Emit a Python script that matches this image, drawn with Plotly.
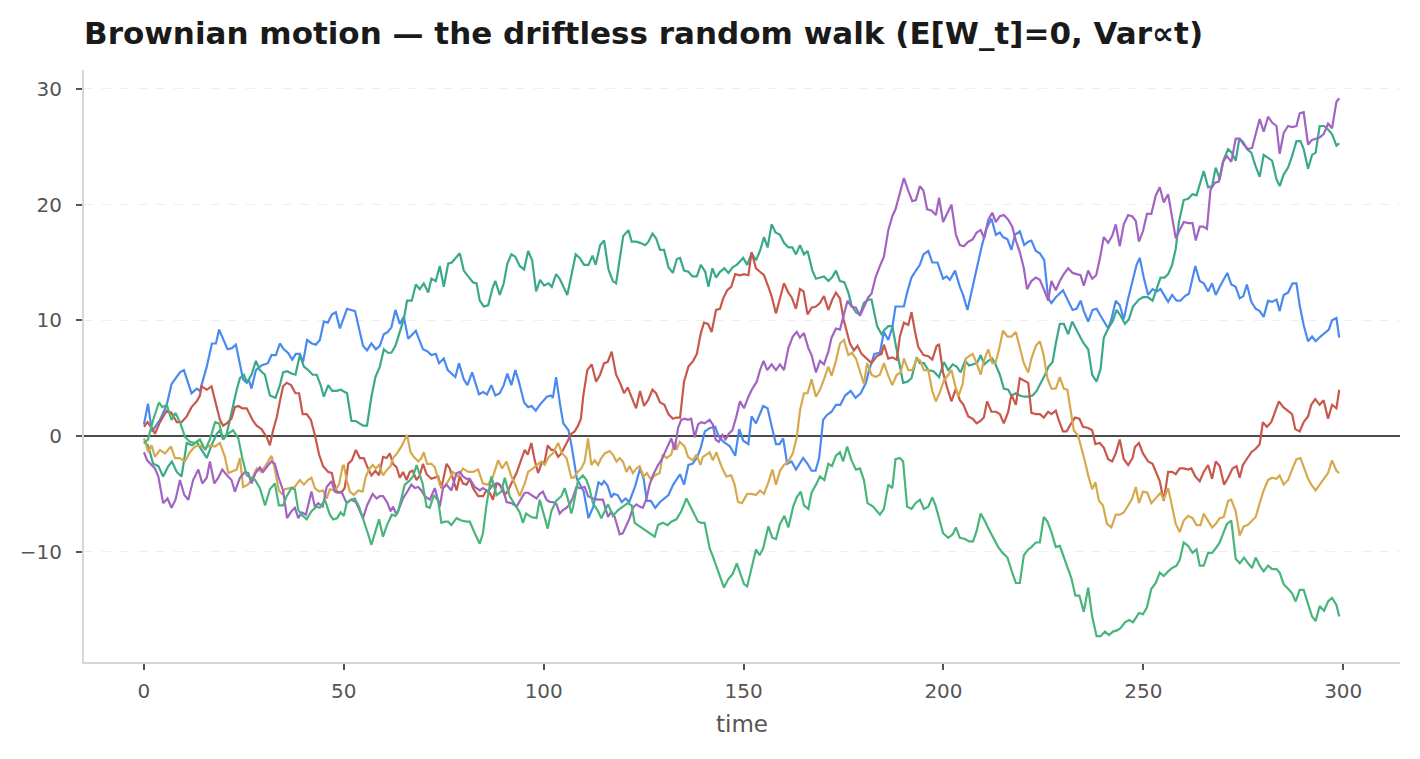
import plotly.graph_objects as go

# ---- data (time, value) ----
blue_t = [0,1,2,4,5.7,6.9,9,10,11.9,13.2,14,15.7,17,18,18.8,20.9,22,23,24.8,25.7,26.2,26.9,28,29.4,31,31.9,33,34,35,36,37.1,38,39,39.8,40.8,42,43,44,45,46,47,48,49,50.8,52.8,54.8,55.8,56.9,58,59,60,61,61.9,62.9,64,65,66.1,68,69.8,71,71.9,73,73.8,75,76,77.9,78.8,80,80.9,82.1,83.8,84.8,85.8,86.9,87.9,89,90,90.9,91.9,92.9,93.8,95.1,96.1,97,98,99,100.8,101.8,102.3,103.1,104.1,104.9,106.2,107,108.3,110,111.2,112.4,113.7,114.5,115.1,116,116.9,117.5,118.5,119.5,120.5,121.4,122.9,124.1,125,125.8,126.8,127.9,129.1,130.3,131.2,132.4,134.1,135.1,136.2,137.2,138.3,139.3,140.3,141.6,142.9,143.7,145,145.8,146.6,147.9,148.9,149.9,151.2,152,153.1,154.9,156,157,158.1,159,159.9,160.9,162,163.1,164.9,166,167,168,168.9,169.9,170.8,172,173.1,174.2,175.4,176.8,178,179.3,180.6,181.4,182.7,184.1,185.1,186.2,187.2,188,189.1,190.1,190.9,192,192.9,194.1,195,196.2,197.2,198.5,199.9,200.8,201.6,202.9,204.1,204.9,206,207,208.3,209.5,210.6,212,213.1,214.1,214.9,216,217,217.9,219.1,220.2,221.2,222,223.1,224.1,225.2,226.2,227,228.1,229.9,231.2,232.3,233.3,234.3,235.1,236.2,237.3,238.3,239.3,241.2,242,243.1,244.1,245.1,246.2,247.4,248.3,249.1,250.1,251.2,252.3,253.3,254.3,256.2,257.2,258.3,259.3,260.4,261.4,263,264.1,265.1,266.2,267.2,268.1,269.1,271,272,273.1,274.1,275,275.9,277,278.1,279.1,280.1,281.2,282.2,283.3,284.1,285.1,286.2,287.3,288.3,289.1,290.1,291.2,292.2,293.1,294.3,295.3,296.4,297.2,298.3,299]
blue_v = [1.0,2.8,0.4,1.4,2.7,4.5,5.5,5.7,3.7,4.1,3.9,6.0,8.0,8.0,9.2,7.5,7.6,7.9,4.9,4.6,4.9,4.1,5.7,6.1,6.3,7.0,7.0,8.0,7.5,7.2,6.6,7.1,7.1,6.4,8.3,8.0,7.9,8.3,9.9,9.8,10.5,10.7,9.3,11.0,10.8,7.8,7.4,8.0,7.5,7.8,8.8,9.0,9.4,10.9,9.7,10.3,8.4,9.1,7.5,7.3,7.0,7.1,6.3,6.7,5.7,5.1,6.3,4.9,4.4,5.5,3.6,3.8,3.6,4.4,3.5,3.7,4.4,5.4,4.4,5.7,4.7,2.9,2.5,2.6,2.2,2.7,3.4,3.5,3.3,5.1,2.7,1.1,0.5,-0.9,-3.7,-4.8,-7.1,-6.1,-4.0,-4.2,-3.9,-4.3,-5.3,-5.0,-5.1,-5.7,-5.4,-5.7,-4.3,-2.8,-3.7,-5.6,-5.6,-6.2,-5.7,-5.4,-5.1,-4.2,-3.3,-4.2,-2.5,-2.4,-1.9,-1.0,0.4,0.7,0.8,0.0,-0.5,-0.7,-0.9,-1.7,0.6,-0.4,-0.7,1.7,1.1,2.6,2.4,0.9,-0.7,-0.7,-0.2,-2.4,-2.2,-2.9,-1.9,-2.4,-3.0,-3.0,-1.9,1.4,1.8,2.1,2.7,2.7,3.5,3.9,3.3,3.7,4.6,5.7,7.1,7.2,9.0,8.3,9.4,11.2,11.2,11.2,12.4,13.7,14.2,14.8,15.7,16.0,15.0,15.0,13.6,13.8,13.5,14.3,12.9,12.2,10.9,12.5,14.4,16.3,17.8,18.8,17.4,17.6,17.2,17.0,16.1,17.4,17.7,16.5,16.8,16.9,16.0,15.8,15.2,11.9,11.5,12.0,12.6,11.7,10.9,11.0,11.7,10.8,9.9,10.9,11.0,10.4,9.3,10.1,11.7,11.3,10.1,11.9,13.7,14.8,15.4,13.7,12.2,12.7,12.5,12.7,11.6,12.2,11.7,11.7,12.1,12.3,14.7,13.4,13.2,12.5,13.2,12.2,12.9,14.1,13.1,12.9,11.9,12.1,13.1,11.6,11.0,10.8,10.3,11.7,11.6,11.8,10.8,12.2,12.4,13.2,13.2,11.3,9.6,8.2,8.6,8.2,8.6,8.9,9.2,10.0,10.2,8.5]

teal_t = [0,1,2.3,3.6,4.8,6.1,7,8.2,9.4,10.7,12,13.2,14.4,15.7,16.9,18.2,19,19.8,20.7,21.5,22.3,23.2,24,25,25.8,26.9,28,29,30.25,31.5,32.9,34,34.8,35.8,36.9,37.9,39,40,41.1,42.2,43.2,44.2,45,46.1,47.1,48.2,49.2,50.8,51.9,53,54.8,55.8,56.9,57.9,59,60,61,61.9,62.9,64,65,65.8,67,68,69,70,71.1,71.9,73,74,75,76.1,77,79,80,81.1,82.3,83.2,84,85,86.1,87.3,87.9,89,90,90.9,91.9,92.9,94,95.1,96.1,97.1,98.1,99.1,100.1,101.2,102,103.1,104,105.9,107,108,109,110.1,111.2,112.2,113,114.1,115.1,116.2,117.3,118.1,119.1,119.9,121.2,122,123.1,124.1,125.4,126.2,127.2,128.1,129.1,130.1,131.2,132.3,133.3,134.1,135.1,136.2,137.2,138.3,139.3,140.4,141.2,142.2,143.1,144.1,145.2,146.2,147.3,148.3,149.9,150.9,152,153.1,154.1,155.1,156,157,158,159.1,160.1,161.2,162.2,163.1,164.1,165.1,166,167.2,168.1,169.1,170.1,171.2,172.1,173.1,174.1,175.2,176.2,177,178.1,179.1,180.1,181.2,182,182.6,183.4,184.5,185.3,186.2,187.2,188,189.1,189.9,191,192,193.3,194.1,195.1,196.2,197.5,198.9,200.1,201.2,202.3,203.3,204.3,205.4,206.4,207.4,208.4,209.3,210.2,211.2,212.2,213,214.1,215.1,216.2,217,218.1,219.1,220.2,221.2,222.3,223.3,224.4,225.4,226.3,227.3,228.1,229.1,230.1,231.2,232.2,233.3,234.3,235.1,236.2,237.2,238.3,239.3,240.1,241.2,242.3,243.3,244.3,245.4,246.4,247.4,248.9,249.9,251.1,252.3,253.3,254.3,255.3,256.2,257.2,258.1,258.9,260.1,261.2,262.3,263.3,264.1,265.1,266.2,267.2,268.1,269.1,270.1,271.2,272.1,273.1,274,275,275.9,277,278,279.1,280.1,281.2,282.2,283.3,284.1,285.1,286.2,287.2,288.3,289.3,290.1,291.2,292.2,293.1,294.1,295.2,296.2,297.2,298.3,299]
teal_v = [-0.5,-0.8,-2.4,-2.6,-3.5,-2.6,-2.2,-3.1,-3.5,-0.6,-0.8,-0.5,-1.2,-1.9,-0.8,0.2,0.5,-0.3,0.2,1.4,2.8,4.0,5.0,5.3,4.6,5.3,6.5,5.7,5.3,3.5,3.3,4.4,5.5,5.6,5.4,5.3,7.0,6.0,5.7,5.3,5.3,4.4,3.4,4.4,3.9,3.9,4.0,3.7,1.3,1.3,0.9,0.9,3.4,5.1,6.0,7.5,7.2,7.2,7.8,9.0,10.1,11.7,11.7,13.1,12.7,13.2,12.4,13.6,13.4,14.7,12.9,14.9,15.0,15.8,14.3,13.8,13.3,13.2,11.7,11.2,11.3,12.9,13.4,12.2,13.2,14.9,15.7,15.5,14.7,14.4,16.0,15.2,12.5,13.5,13.0,13.2,12.9,14.0,13.6,12.2,14.1,15.7,15.4,14.8,14.8,15.6,14.8,16.5,16.9,14.4,13.4,13.2,15.5,17.3,17.8,16.8,16.8,16.7,16.5,16.8,17.5,17.1,16.1,16.1,14.6,14.1,15.3,15.4,14.3,14.2,13.8,13.8,14.8,14.2,12.9,14.5,13.7,14.2,14.5,14.1,14.6,14.8,15.4,14.8,15.8,15.2,16.0,17.2,16.3,18.3,17.6,17.4,16.7,16.3,16.3,15.7,16.5,15.7,16.0,14.3,13.6,13.7,13.8,13.4,13.7,14.3,13.4,13.3,12.4,11.3,10.7,10.5,11.5,11.8,11.8,10.8,9.5,8.8,9.2,9.5,9.5,8.0,6.0,4.6,4.7,5.0,6.8,6.3,6.3,5.7,5.6,5.1,6.4,5.7,6.2,6.0,5.5,6.5,6.1,6.2,6.3,7.0,6.2,6.5,6.7,6.2,5.3,4.1,4.0,3.5,3.7,3.5,3.4,3.4,3.5,3.9,4.6,5.3,6.0,6.4,8.0,9.7,9.7,8.8,9.9,9.1,8.5,8.0,7.5,5.3,4.7,5.8,8.5,9.3,9.9,10.9,10.4,9.7,10.1,11.2,11.8,12.0,12.0,11.7,12.7,13.7,13.7,14.0,14.8,16.2,18.5,20.4,20.5,20.9,20.8,21.7,22.9,21.5,21.6,23.2,22.2,23.9,24.8,24.5,23.8,25.7,25.4,24.8,24.5,23.4,22.4,24.3,24.0,23.8,22.2,21.6,22.6,23.2,24.2,25.5,25.5,24.8,23.1,24.3,24.5,26.8,26.8,26.5,26.1,25.1,25.3]

red_t = [0,0.9,1.9,2.75,4,5.7,6.9,8.2,9.4,10.7,11.9,13.2,14,14.4,15.7,16.9,18.2,19,19.8,20.7,21.9,22.75,23.6,24.6,25.7,26.5,27.3,28.2,29.4,30.7,31.5,32.3,33.2,34,34.8,35.7,36.8,37.9,38.8,39.7,40.7,41.75,42.75,43.8,44.8,46.1,47,47.5,48.2,49.4,50.2,50.7,51.1,52,53,54,55,55.8,56.9,57.9,58.8,59.8,60.7,61.5,62.3,63.2,64,64.8,65.7,66.5,67.2,68.2,69,69.8,70.7,71.9,73.6,74.4,75.7,76.5,77.3,78.2,79,79.8,80.7,81.5,82.3,83.6,84.8,85.7,86.5,87.3,88.2,89,90.25,91.1,91.9,93.2,94,95.25,96,96.9,97.75,98.6,99.4,100.25,101,101.9,102.75,103.6,104.4,105.25,106.1,106.9,107.75,108.6,109.3,109.9,110.9,112,113.1,114.1,115.1,116,117,118.1,119.1,120.1,121,122,123.1,124.1,125.1,126.1,127.2,128.1,129.1,130.2,131.2,132.3,133.2,134.1,135.1,136.2,137.4,138.3,139.3,140.1,141.1,142,143.1,144.1,144.9,145.9,146.9,147.9,149.1,150.1,151.2,152,153.1,154.1,155.1,156.2,157,158.1,159.1,160.1,161.2,162,163.1,164.1,165,166,167,168.1,169.1,170.1,171.2,172.2,173.1,174.1,175,175.8,176.6,177.6,178.5,179.5,180.8,182,183.3,184.5,185.1,186.2,187.2,188.3,189.1,190.1,191.2,192,192.9,193.7,195,196.2,197.2,198.3,198.9,199.9,200.9,202,203.1,204.1,205,206.2,207.3,208.3,209.2,210.1,210.9,212,213.1,214.1,215.1,216.2,217,218.1,219.1,220.2,221.2,222,223.1,224.1,225.1,226.2,227,228.1,228.9,229.9,230.8,231.6,232.9,234,234.9,236.2,237.2,238,239.1,240.1,241.2,242.2,243.1,244.1,245.1,246.2,247.3,247.9,248.9,249.9,251.2,252.3,253.3,254.1,255.1,256.2,257.2,258.1,259.1,260.1,261.2,262,263,264.1,265.1,266.2,267.2,268.1,269.1,270.2,271.2,272.3,273.3,274.1,274.9,276,277,278.1,279.1,279.9,280.9,282,283,283.9,285,286.2,287.2,288,289.1,290.1,291.2,292,293,294.1,295.1,296.2,297.2,298.3,299]
red_v = [0.8,1.2,0.7,0.2,1.2,2.2,2.0,1.2,1.2,1.7,2.5,3.0,3.5,4.3,4.0,4.3,2.5,1.4,0.9,1.1,1.5,2.5,2.6,2.4,2.4,1.8,1.3,0.9,0.6,-0.1,-0.8,0.5,1.6,3.0,4.3,4.6,4.4,3.7,3.7,1.9,1.9,1.4,0.1,-1.6,-2.6,-3.1,-3.2,-4.0,-4.8,-4.9,-4.5,-3.4,-2.4,-2.1,-1.2,-1.9,-1.9,-2.6,-3.4,-3.0,-3.4,-1.8,-1.9,-1.5,-2.4,-2.7,-3.6,-3.1,-3.8,-3.1,-3.0,-3.8,-3.4,-2.4,-3.3,-3.7,-3.5,-4.5,-2.4,-2.8,-3.8,-4.7,-3.5,-4.1,-4.2,-3.7,-4.5,-5.2,-5.2,-4.7,-4.9,-5.5,-4.1,-4.2,-5.1,-4.7,-4.1,-3.2,-2.4,-1.2,-1.6,-0.6,-2.1,-3.2,-2.4,-2.2,-0.8,-1.2,-1.2,-1.8,-1.5,-0.9,-0.3,0.2,0.4,0.9,1.5,3.5,5.7,6.2,4.7,5.3,6.3,6.4,7.3,5.3,4.6,3.7,4.2,3.4,2.4,3.9,2.6,3.1,4.0,3.7,2.9,2.7,1.9,1.5,1.6,1.6,4.7,6.0,6.5,7.1,8.9,9.8,9.7,9.0,10.9,11.0,11.9,12.6,12.9,14.0,13.9,14.0,13.9,15.9,14.5,14.2,13.9,12.9,12.1,10.6,11.9,13.2,12.4,12.0,11.0,12.7,12.5,10.5,11.1,11.2,11.5,12.1,10.9,11.8,12.4,11.9,10.1,9.0,8.0,7.4,7.8,7.1,6.7,6.3,6.9,7.1,7.9,6.7,6.8,6.6,8.6,9.8,9.6,10.7,9.0,7.7,7.0,6.9,6.6,7.8,7.9,5.5,4.2,3.0,4.1,3.1,2.7,1.7,1.5,1.1,1.3,1.6,3.0,2.1,2.1,1.9,1.1,2.1,3.6,2.7,5.0,4.8,4.6,2.0,1.9,1.9,1.6,2.1,1.9,2.2,1.3,0.4,0.4,0.9,1.6,1.5,0.8,0.7,0.5,-0.7,-0.6,-1.0,-2.0,-2.2,-1.5,-0.3,-2.0,-2.5,-1.9,-0.95,-0.6,-1.5,-2.2,-2.4,-3.3,-3.9,-5.6,-3.1,-3.1,-3.3,-2.8,-2.8,-2.9,-2.8,-3.5,-3.9,-3.1,-2.5,-3.7,-2.2,-2.6,-4.2,-3.6,-2.8,-2.6,-3.6,-2.5,-1.9,-1.4,-1.1,-0.7,1.2,0.8,1.2,2.2,3.0,2.5,2.2,1.9,0.6,0.4,1.2,1.7,2.7,3.2,2.7,3.1,1.5,2.7,2.4,4.0]

gold_t = [0,1.1,1.9,2.75,4,5.25,6.75,7.75,9,10.25,11.5,12.75,14,15.25,16.5,17.75,19,20.25,21.1,22.3,23.2,24,24.8,26,26.9,28.2,29.4,30.7,31.9,32.75,33.75,34.5,35.2,36.5,37.7,39,40,41,41.9,42.75,43.8,44.8,45.7,46.5,47.75,48.8,49.7,50,50.7,51.5,52.5,53.6,54.7,55.5,56.3,57.2,58,58.8,59.8,60.8,61.7,62.3,63.3,64.4,65.25,65.8,66.7,67.5,68.6,69.4,70,70.8,71.9,72.75,74,74.8,76.1,77.3,78.6,79.8,81.1,82.3,83.6,84.8,86.1,87.3,88.6,89.6,90.7,91.8,92.75,94,95.25,96.1,97.3,98.6,99.4,100.25,101.25,102.3,103.6,104.6,105.7,106.9,107.5,108.3,109.4,110.25,111.1,111.9,112.75,113.6,114.4,115.25,116.5,117.3,118.2,119,119.8,120.7,121.5,122.3,123.2,124,125,125.8,126.9,127.75,129,129.8,130.7,131.9,132.75,133.2,134,135.25,136.1,137.3,138.2,139.2,139.8,140.7,141.5,142.3,143.2,144,144.8,145.7,146.9,147.75,148.6,149.6,150.9,152,153.1,154.1,155.1,156.2,157.2,158.1,159.1,160.1,161.2,162.3,163.3,164.1,165.1,166,167,168.1,169.1,170.1,171.2,172,173.1,174.1,175.1,176.2,177.1,178.1,179.1,180.1,180.9,182,183,184.1,185.1,186.2,187.2,188.3,189.3,190.1,191.2,192.2,193.3,194.2,195.1,196.2,197.2,198.1,199.1,200.1,201.2,202,202.9,203.7,204.8,205.6,206.4,207.3,208.3,209.3,210.1,211.2,212.2,213,213.9,214.9,216,217,218.1,219.1,220.1,221.2,222,223.1,224.1,225,226,227,228.1,229.1,230.1,231,231.8,232.6,233.7,234.5,235.4,236.2,237.2,238,238.9,239.9,240.9,242,243.1,244.1,245.1,246.2,247.2,248.1,248.9,249.9,251,252,253.2,254.3,255.1,256.2,257.2,258.1,259.1,260.1,261.2,262.3,263.3,264.3,265.1,266.2,267.2,268.1,269.1,270.1,271.2,272,273.1,274.1,275.1,276.1,277,278.1,279.1,280.1,281.2,282.2,283.3,284.1,285.1,286.2,287.2,288.3,289.3,290.1,291.2,292.2,293.1,294.1,295.1,296.2,297.2,298.3,299]
gold_v = [-0.2,-1.4,-0.8,-1.8,-1.2,-1.5,-0.9,-1.9,-1.9,-2.2,-1.4,-0.9,-0.8,-1.1,-0.8,-0.9,-0.6,-1.8,-3.2,-3.0,-2.9,-1.9,-4.4,-4.2,-3.8,-2.8,-3.1,-2.4,-1.7,-2.9,-4.7,-5.0,-4.6,-4.5,-4.4,-3.8,-4.2,-3.8,-3.6,-4.5,-4.8,-4.7,-5.4,-4.6,-4.7,-4.2,-2.6,-2.5,-3.8,-4.8,-5.1,-4.7,-4.8,-3.5,-2.9,-2.5,-2.8,-2.5,-3.4,-2.9,-2.6,-1.9,-1.5,-0.9,-0.3,0.1,-1.4,-1.8,-2.2,-1.9,-1.4,-2.4,-2.4,-2.7,-4.2,-4.5,-3.9,-3.1,-3.5,-2.8,-3.1,-3.1,-2.9,-4.1,-4.2,-3.5,-2.1,-2.8,-2.2,-3.4,-4.1,-5.2,-4.1,-3.1,-2.8,-2.4,-2.2,-2.5,-1.8,-1.5,-0.6,-1.5,-1.9,-3.6,-3.6,-3.2,-2.8,-2.2,-0.2,-2.5,-2.1,-2.5,-1.9,-1.5,-1.3,-1.6,-2.2,-1.9,-2.2,-3.1,-2.6,-3.2,-2.8,-2.6,-3.5,-3.2,-3.8,-3.4,-3.2,-1.6,-1.9,-1.6,-0.5,-1.2,-0.5,-0.9,-1.8,-2.1,-1.6,-2.5,-1.8,-1.6,-1.4,-2.1,-1.4,-2.2,-2.9,-3.5,-3.4,-4.2,-5.7,-5.8,-5.0,-5.0,-5.1,-4.7,-5.0,-4.0,-2.9,-4.2,-3.0,-2.5,-2.2,-1.5,-0.1,2.2,3.7,3.7,4.9,3.4,4.0,4.9,6.0,5.2,6.5,8.0,8.3,7.0,7.2,6.7,5.5,4.5,6.3,5.3,5.1,5.3,6.3,5.2,4.4,5.3,5.5,6.7,5.7,5.7,6.7,6.5,5.7,5.7,3.9,3.0,3.8,4.8,5.3,5.7,4.4,3.4,4.5,6.7,6.9,7.1,6.3,5.3,6.5,7.5,6.3,6.3,7.5,9.1,8.6,8.6,9.0,7.6,6.3,5.5,6.7,7.8,8.2,7.1,5.0,4.1,4.1,5.1,4.1,4.0,2.1,0.5,0.0,-1.0,-2.2,-3.4,-4.6,-4.0,-5.6,-6.0,-7.6,-7.9,-6.8,-6.8,-6.6,-6.0,-5.4,-4.4,-5.8,-4.8,-4.9,-5.8,-5.3,-4.9,-5.5,-4.5,-6.1,-7.6,-8.3,-7.3,-6.9,-7.1,-7.7,-7.7,-6.7,-7.4,-7.9,-7.6,-7.1,-7.0,-5.6,-5.5,-6.5,-8.6,-7.8,-7.7,-7.4,-7.0,-5.8,-4.7,-3.8,-3.6,-3.7,-3.4,-4.2,-3.8,-2.9,-2.0,-1.9,-2.7,-3.7,-4.3,-4.7,-4.2,-3.7,-3.2,-2.1,-3.0,-3.2]

purple_t = [0,0.8,1.9,2.75,3.6,4.8,5.9,6.9,7.9,9,10.1,11.1,12.3,13.6,14.6,15.7,16.5,17.6,18.6,19.6,20.75,21.9,22.75,24,25.25,26.1,26.9,27.9,29,29.8,31.1,31.9,32.75,33.6,34.8,35.8,36.9,37.75,38.6,39.5,40.5,41.9,42.75,43.6,44.7,45.7,46.9,47.75,48.6,49.4,50.7,51.9,53,53.8,54.8,55.8,57.2,58.2,59,59.8,60.8,61.7,62.3,63.2,64,64.8,65.7,66.9,67.75,68.6,69.4,70.25,71.5,72.75,74,74.8,75.7,76.9,78.2,79,79.8,80.7,81.5,82.75,84,84.8,86.1,87.3,88.6,89.8,90.7,92,93.2,94.4,95.25,96.1,96.9,98.2,99,99.8,100.7,101.5,102.3,103.2,104,104.8,105.7,106.5,107.3,108.2,109,110.25,111.1,112.3,113.6,114.8,116.1,116.9,117.75,119,119.8,120.7,121.5,122.3,123.2,124,124.8,125.7,126.5,127.3,128.6,129.4,130.25,131,131.9,132.75,133.6,134.4,135.25,136.1,136.9,137.75,138.6,139.4,140.25,141.5,142.3,143,143.8,144.7,145.5,146.3,147.2,148.2,149.1,150.1,151.2,152.2,153.3,154.1,155,155.9,157,158.1,159.1,160.1,161.2,162.3,163.3,164.1,165.1,166.2,167,168.1,169.1,170.1,171.2,172,173.1,174.1,175.1,176,177,178.1,179.1,180.1,181.2,182,183,184.1,185.1,186.2,187.2,188,189.1,190.1,191.2,192.2,193.1,194.1,195,195.9,197,198.1,198.9,199.9,201,202,203.1,204.1,205.1,206.2,207.3,208.3,209.3,210.2,211.2,212.2,213.1,214.1,215.1,216.2,217.2,218.1,219.1,220.1,220.9,222,223.1,224.1,225.1,226.2,227,228.1,229.1,230.1,231.2,232.3,233.3,234.3,235.1,236.2,237.2,238.2,239.1,240.1,241.2,242.2,243.1,244.1,245.1,246.2,247.2,248.1,248.9,249.9,250.9,252,253.1,254.1,255.1,256.2,257.2,258.1,259.1,260.1,261.2,262.3,263.1,264.1,265,265.9,266.8,267.9,268.9,269.9,270.9,272,273.1,274.1,275.1,276.2,277.2,278.1,279.1,280.1,281.2,282.2,283.3,284.1,285.1,286.2,287.2,288.3,289.1,290.1,291.2,292.2,293.1,294.1,295.1,296.2,297.2,298.3,299]
purple_v = [-1.4,-2.1,-2.5,-2.8,-3.5,-5.8,-5.4,-6.2,-5.5,-3.8,-5.1,-5.5,-3.8,-2.9,-4.1,-3.6,-2.2,-4.1,-3.6,-2.9,-3.4,-3.8,-4.8,-3.6,-3.1,-3.2,-4.1,-3.2,-2.7,-3.1,-2.5,-2.2,-2.4,-3.5,-4.7,-7.1,-6.5,-6.2,-7.1,-6.6,-6.8,-4.8,-6.1,-5.8,-6.1,-4.4,-3.9,-4.8,-4.9,-4.8,-5.8,-5.5,-5.7,-6.4,-7.1,-6.0,-5.0,-5.4,-5.2,-5.2,-5.7,-6.5,-6.1,-6.8,-6.1,-5.4,-4.9,-4.2,-4.5,-4.4,-4.7,-5.2,-5.5,-4.5,-6.1,-4.5,-4.2,-4.7,-3.2,-3.1,-3.5,-3.7,-3.7,-4.4,-4.7,-4.5,-4.8,-4.2,-4.1,-4.5,-5.7,-5.8,-6.1,-5.4,-4.9,-4.9,-5.1,-5.4,-5.0,-4.8,-5.5,-5.7,-5.7,-5.9,-6.7,-6.4,-6.2,-5.9,-5.3,-4.4,-4.5,-4.4,-5.2,-5.4,-5.5,-5.5,-7.0,-6.5,-7.0,-8.5,-8.4,-7.7,-7.1,-6.2,-5.9,-6.1,-6.2,-5.4,-4.2,-3.4,-2.5,-2.1,-1.4,-0.9,-0.2,-1.2,0.7,1.4,1.5,1.4,1.5,-0.1,1.0,1.2,1.1,1.4,1.0,-0.3,-0.5,0.1,-0.3,0.2,0.5,1.7,3.0,2.4,3.4,4.1,4.7,5.7,6.5,5.7,6.2,5.7,6.2,5.7,7.6,8.6,9.0,8.5,8.9,7.6,7.0,5.5,6.5,6.2,7.3,8.5,9.3,9.2,10.6,11.7,11.2,11.1,10.4,11.2,12.0,12.3,13.7,14.7,15.5,17.8,19.0,19.6,20.9,22.3,21.2,20.3,20.4,21.6,21.2,19.6,19.5,19.1,20.6,18.5,19.3,20.0,17.4,16.5,16.4,16.8,17.0,17.6,17.8,17.1,18.7,19.3,18.5,19.0,19.1,18.7,18.1,16.9,15.9,14.5,12.7,13.4,13.7,13.5,12.7,11.7,13.4,12.6,13.4,14.0,14.5,14.1,14.0,13.9,13.0,14.3,13.6,13.9,15.3,17.2,16.7,17.3,18.3,16.4,18.3,19.1,19.0,18.6,16.8,17.7,19.2,19.2,20.8,21.5,20.2,20.9,18.9,17.1,17.8,18.5,18.4,18.4,16.9,18.1,18.1,17.9,21.3,21.9,22.0,23.7,24.2,23.7,25.7,25.7,25.2,24.8,24.9,26.0,27.4,26.3,27.6,27.1,26.8,24.4,26.2,26.8,26.7,26.8,27.9,28.0,25.2,25.6,25.7,25.8,26.1,27.0,26.6,28.9,29.2]

green_t = [0,1,2.3,3.75,4.6,5.7,6.9,7.9,9,10.3,11.5,12.8,14,15.3,16.5,17.8,18.8,19.8,21,22.3,23.6,24.6,25.7,26.9,27.8,29,30.3,31.5,32.75,33.75,34.8,35.7,36.9,37.75,38.6,39.4,40.7,41.9,43.2,44,45.25,46.5,47.3,48.3,49.2,50,50.7,51.7,52.75,53.8,55.25,56,56.9,58,58.8,59.8,60.8,62,62.9,63.6,64.4,65.25,66.3,67.3,68.2,68.9,69.7,70.7,71.5,72.5,73.6,74.4,75.25,76.1,76.9,78.2,79.4,80.7,81.5,82.75,84,84.8,85.7,86.9,88.2,89.4,90.25,91.5,92.75,94,94.8,95.6,96.9,98.2,99,99.8,101,101.9,103.1,104.4,105.25,106.1,106.9,107.3,108.6,109.8,110.7,111.5,112.3,113.6,114.4,115.25,116.1,117.3,118.6,119.8,121,122,122.75,124,125.25,126.5,127.75,128.6,129.8,131,131.9,133.2,134.4,135.7,136.5,137.3,138.6,139.4,140.25,141.5,142.3,143.1,144.1,145.1,146.1,147.3,148.3,149.2,150.1,150.9,152,153.1,154,154.9,156.2,157.2,158.1,159.1,160.2,161.2,162.4,163.3,164.3,165.1,166.2,167,168.1,169.1,170.2,171.2,172.1,173.1,174.1,174.9,175.9,177,178.1,179.1,180.1,181,182.4,184.1,185.1,186.2,187.2,188,189.1,189.9,190.9,192,193,194.1,195.1,196.2,197.2,198,198.9,199.9,201.2,202.3,203.1,204.1,205.4,206.4,207.4,208.3,209.3,210.3,211.4,212.4,213.7,214.8,216,217,218.1,219.1,220.1,221.2,222,223.1,224.1,225.1,226,227,228.1,229.1,229.9,230.9,232,233,234,235.1,236.2,237.2,238.3,239.3,240.4,241.4,242.4,243.4,244.3,245.4,246.4,247.4,248.9,249.9,250.9,252,253.1,254.1,255.1,256.2,257.2,258.3,259.1,260.1,261.2,262.3,263.3,264.1,265.1,266.2,267.2,268.1,269.1,270.1,270.9,272,273.1,274.1,275.2,276.2,277.2,278.1,279.1,280.1,281.2,282.2,283.3,284.1,285.1,286.2,287.2,288.1,289.1,290.1,291.2,292.2,293.1,294.1,295.2,296.2,297.2,298.3,299]
green_v = [-0.6,-0.3,1.4,2.9,2.5,2.7,1.4,2.0,1.2,-0.1,-0.5,-0.6,-0.3,-1.2,-0.3,1.2,1.1,-0.3,0.2,0.5,-0.2,-1.9,-3.4,-3.6,-3.8,-4.5,-6.0,-4.6,-4.1,-6.0,-6.0,-5.2,-4.5,-4.6,-6.4,-6.8,-7.2,-6.5,-6.1,-6.2,-5.5,-6.8,-7.2,-7.1,-6.6,-6.9,-5.8,-5.5,-5.4,-6.1,-7.5,-8.4,-9.4,-8.2,-7.2,-8.7,-7.7,-6.8,-6.9,-6.5,-5.5,-4.2,-3.9,-3.5,-2.5,-3.2,-4.1,-6.1,-6.2,-5.1,-5.6,-7.5,-7.4,-7.4,-7.7,-7.1,-7.3,-7.4,-7.4,-8.4,-9.3,-8.4,-5.9,-3.5,-5.1,-4.8,-3.6,-5.2,-5.9,-6.6,-7.5,-6.7,-7.0,-7.1,-5.5,-6.5,-8.0,-6.5,-5.6,-5.2,-4.5,-5.5,-6.7,-6.2,-3.8,-3.4,-3.8,-4.6,-5.8,-6.5,-7.1,-6.5,-5.9,-6.9,-6.4,-6.1,-5.8,-6.0,-7.5,-7.8,-8.1,-8.4,-8.7,-7.7,-7.5,-7.7,-7.4,-7.2,-6.5,-5.4,-6.0,-6.5,-7.4,-7.5,-7.5,-9.7,-10.4,-11.2,-12.0,-13.1,-12.4,-11.9,-11.0,-12.0,-12.8,-13.0,-11.3,-9.8,-10.3,-9.7,-7.8,-8.8,-8.9,-7.6,-6.9,-7.9,-6.1,-5.3,-4.8,-6.0,-6.3,-4.9,-4.2,-3.5,-3.8,-2.4,-2.6,-1.7,-1.4,-2.2,-0.9,-2.1,-2.9,-2.8,-3.8,-5.8,-6.1,-6.8,-6.3,-4.2,-4.5,-2.0,-1.9,-2.2,-6.1,-6.3,-5.8,-5.5,-6.3,-6.1,-5.3,-6.0,-7.1,-8.4,-8.8,-8.5,-7.9,-8.8,-8.9,-9.1,-9.1,-8.2,-6.7,-7.3,-8.1,-8.8,-9.6,-10.1,-10.5,-11.6,-12.7,-12.7,-10.3,-9.8,-9.6,-9.2,-9.2,-7.0,-7.4,-8.3,-9.6,-9.5,-10.3,-11.2,-12.3,-13.8,-13.8,-15.2,-13.1,-15.6,-17.3,-17.3,-16.9,-17.2,-16.9,-16.8,-16.6,-16.1,-15.9,-16.1,-15.3,-15.4,-14.8,-13.2,-12.7,-11.8,-12.1,-11.7,-11.4,-11.2,-10.7,-9.2,-9.5,-10.1,-9.8,-11.2,-11.2,-10.1,-10.1,-9.7,-9.2,-8.3,-7.6,-7.3,-10.6,-11.0,-10.5,-11.0,-11.4,-10.5,-11.2,-11.7,-11.2,-11.5,-11.5,-11.8,-12.8,-13.2,-13.6,-14.3,-13.3,-13.3,-14.6,-15.6,-16.0,-14.7,-15.1,-14.3,-14.0,-14.6,-15.6]

title_text = "Brownian motion \u2014 the driftless random walk (E[W_t]=0, Var\u221dt)"
x_ticks = [0, 50, 100, 150, 200, 250, 300]
y_ticks = [-10, 0, 10, 20, 30]

series = [
    (blue_t, blue_v, "#4a8af0"),
    (teal_t, teal_v, "#3aa98b"),
    (red_t, red_v, "#c9584c"),
    (gold_t, gold_v, "#d6a94f"),
    (purple_t, purple_v, "#a264c2"),
    (green_t, green_v, "#48b67a"),
]

fig = go.Figure()
for t, v, c in series:
    fig.add_trace(go.Scatter(x=t, y=v, mode="lines",
                             line=dict(color=c, width=2.2), showlegend=False,
                             hoverinfo="skip"))

fig.update_layout(
    width=1420, height=759,
    paper_bgcolor="white", plot_bgcolor="white",
    margin=dict(l=84, r=20, t=70, b=97),
    font=dict(family="DejaVu Sans", color="#555555", size=20),
    title=dict(text="<b>" + title_text + "</b>", x=84/1420, xanchor="left",
               y=1 - 33/759, yanchor="middle",
               font=dict(family="DejaVu Sans", size=31, color="#1a1a1a")),
    showlegend=False,
)
fig.update_xaxes(
    range=[-15, 314.2], tickvals=x_ticks, showgrid=False, zeroline=False,
    showline=True, linecolor="#d6d6d6", linewidth=2,
    ticks="outside", ticklen=6, tickwidth=1.5, tickcolor="#555555",
    tickfont=dict(size=20, color="#555555"), ticklabelstandoff=4,
    title=dict(text="time", font=dict(size=23, color="#555555"), standoff=14),
)
fig.update_yaxes(
    range=[-19.53, 31.64], tickvals=y_ticks, showgrid=True,
    gridcolor="#eeeef3", griddash="dash", gridwidth=1,
    zeroline=True, zerolinecolor="#4a4a4a", zerolinewidth=1.6,
    showline=True, linecolor="#d6d6d6", linewidth=2,
    ticks="outside", ticklen=6, tickwidth=1.5, tickcolor="#555555",
    tickfont=dict(size=20, color="#555555"), ticklabelstandoff=10,
)

fig.write_html("out.html")
